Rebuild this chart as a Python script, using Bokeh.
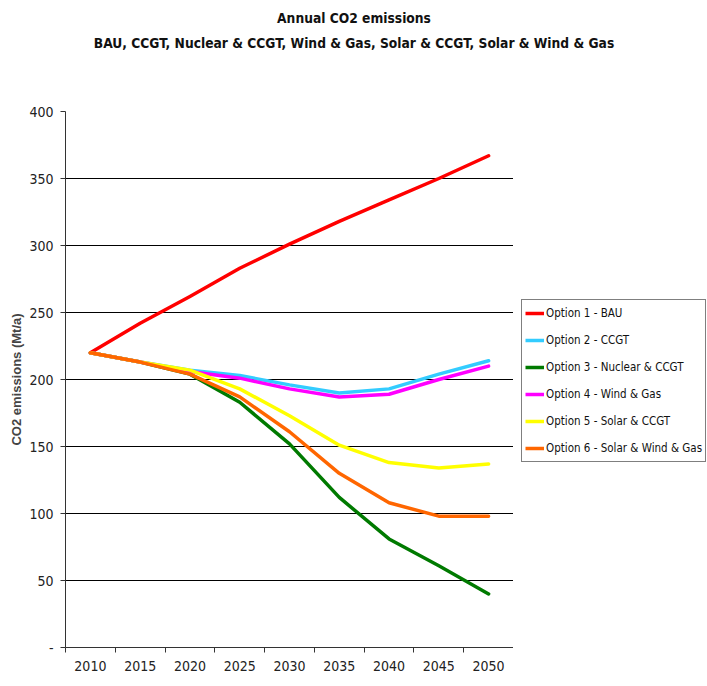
from bokeh.plotting import figure
from bokeh.layouts import column, row
from bokeh.models import FixedTicker, Title, Legend, LegendItem, Range1d, Span
from bokeh.embed import file_html
from bokeh.resources import INLINE

years = [2010, 2015, 2020, 2025, 2030, 2035, 2040, 2045, 2050]
opt1_bau = [220, 242, 262, 283, 301, 318, 334, 350, 367]
opt2_ccgt = [220, 213, 207, 203, 196, 190, 193, 204, 214]
opt3_nuclear_ccgt = [220, 213, 204, 183, 152, 112, 81, 61, 40]
opt4_wind_gas = [220, 213, 206, 201, 193, 187, 189, 200, 210]
opt5_solar_ccgt = [220, 213, 207, 193, 173, 151, 138, 134, 137]
opt6_solar_wind_gas = [220, 213, 204, 187, 161, 130, 108, 98, 98]

series_names = ["Option 1 - BAU", "Option 2 - CCGT", "Option 3 - Nuclear & CCGT",
                "Option 4 - Wind & Gas", "Option 5 - Solar & CCGT", "Option 6 - Solar & Wind & Gas"]
series_values = [opt1_bau, opt2_ccgt, opt3_nuclear_ccgt, opt4_wind_gas, opt5_solar_ccgt, opt6_solar_wind_gas]
series_colors = ["#FF0000", "#33CCFF", "#007A00", "#FF00FF", "#FFFF00", "#FF6600"]

y_ticks = [0, 50, 100, 150, 200, 250, 300, 350, 400]
grid_ticks = [50, 100, 150, 200, 250, 300, 350]

title_line1 = "Annual CO2 emissions"
title_line2 = "BAU, CCGT, Nuclear & CCGT, Wind & Gas, Solar & CCGT, Solar & Wind & Gas"

NARROW = "DejaVu Sans Condensed"

# ---------- header with the two title lines ----------
header = figure(width=707, height=103, output_backend="svg", toolbar_location=None,
                x_axis_type=None, y_axis_type=None, min_border=0)
header.outline_line_color = None
header.grid.visible = False
header.min_border_top = 4
t2 = Title(text=title_line2, align="center", offset=8, text_font=NARROW, text_font_size="13.7px",
           text_font_style="bold", text_color="#111111", standoff=0)
t1 = Title(text=title_line1, align="center", offset=8, text_font=NARROW, text_font_size="13.7px",
           text_font_style="bold", text_color="#111111", standoff=14)
header.add_layout(t2, "above")
header.add_layout(t1, "above")

# ---------- main chart ----------
p = figure(width=513, height=575, output_backend="svg", toolbar_location=None,
           x_range=Range1d(years[0] - 2.5, years[-1] + 2.5), y_range=Range1d(0, 400))
p.min_border_left = 65
p.min_border_top = 8
p.min_border_bottom = 31
p.min_border_right = 0
p.outline_line_color = None

p.xaxis.ticker = FixedTicker(ticks=years, minor_ticks=[y - 2.5 for y in years] + [years[-1] + 2.5])
p.xaxis.major_tick_line_color = None
p.xaxis.minor_tick_in = 0
p.xaxis.minor_tick_out = 5
p.xaxis.minor_tick_line_color = "#333333"
p.xaxis.axis_line_color = "#333333"
p.xaxis.major_label_text_font = NARROW
p.xaxis.major_label_text_font_size = "14px"
p.xaxis.major_label_text_color = "#222222"
p.xaxis.major_label_standoff = 7
p.xgrid.visible = False

p.yaxis.ticker = FixedTicker(ticks=y_ticks)
p.yaxis.major_label_overrides = {0: "-"}
p.yaxis.minor_tick_line_color = None
p.yaxis.major_tick_in = 0
p.yaxis.major_tick_out = 5
p.yaxis.major_tick_line_color = "#333333"
p.yaxis.axis_line_color = "#333333"
p.yaxis.major_label_text_font = NARROW
p.yaxis.major_label_text_font_size = "14px"
p.yaxis.major_label_text_color = "#222222"
p.yaxis.major_label_standoff = 7
p.yaxis.axis_label = "CO2 emissions (Mt/a)"
p.yaxis.axis_label_text_font = "Liberation Sans"
p.yaxis.axis_label_text_font_style = "bold"
p.yaxis.axis_label_text_font_size = "13px"
p.yaxis.axis_label_standoff = 2
p.ygrid.ticker = FixedTicker(ticks=grid_ticks)
p.ygrid.grid_line_color = "black"
p.ygrid.grid_line_width = 1

# light grey right edge of the plot area
p.add_layout(Span(location=years[-1] + 2.5, dimension="height", line_color="#BBBBBB", line_width=1))

for vals, col in zip(series_values, series_colors):
    p.line(years, vals, line_color=col, line_width=3.5, line_join="round", line_cap="round")

# ---------- legend panel (same series drawn off-range, only their legend entries show) ----------
lg = figure(width=194, height=575, output_backend="svg", toolbar_location=None,
            x_axis_type=None, y_axis_type=None, min_border=0,
            x_range=Range1d(0, 1), y_range=Range1d(0, 1))
lg.outline_line_color = None
lg.grid.visible = False
items = []
for name, vals, col in zip(series_names, series_values, series_colors):
    r = lg.line(years, vals, line_color=col, line_width=3.5)
    items.append(LegendItem(label=name, renderers=[r]))
legend = Legend(items=items, location=(8, 185), border_line_color="black", border_line_width=1,
                label_text_font=NARROW, label_text_font_size="11.5px", label_text_color="#111111",
                glyph_width=19, glyph_height=20, label_height=20, spacing=7, padding=3,
                margin=0, label_standoff=2, background_fill_color="white", background_fill_alpha=1.0)
lg.add_layout(legend)

layout = column(header, row(p, lg))
open("out.html", "w").write(file_html(layout, INLINE))
